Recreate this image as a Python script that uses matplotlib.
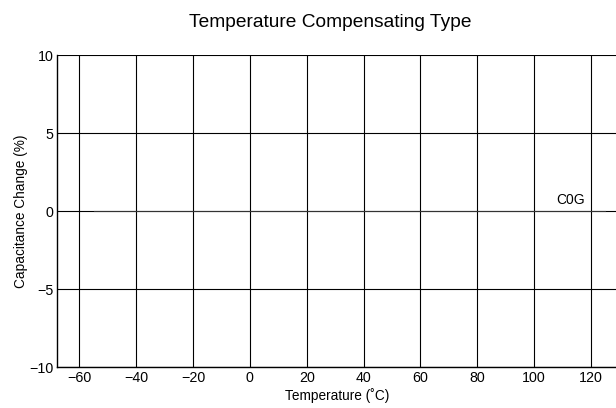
import matplotlib
matplotlib.use("Agg")
import matplotlib.pyplot as plt

plt.rcParams["font.family"] = ["Liberation Sans", "DejaVu Sans"]

# C0G characteristic: flat 0 % change over its rated range
temp = [-55, 125]
cap_change = [0, 0]
series_label = "C0G"

x_ticks = [-60, -40, -20, 0, 20, 40, 60, 80, 100, 120]
y_ticks = [-10, -5, 0, 5, 10]

fig = plt.figure(figsize=(6.16, 4.08), dpi=100)
ax = fig.add_axes([0.0933, 0.0998, 0.9067, 0.7647])

ax.plot(temp, cap_change, color="#333333", linewidth=0.8, zorder=3)
ax.text(113, 0.75, series_label, fontsize=10, ha="center", va="center")

ax.set_xlim(-67.75, 128.9)
ax.set_ylim(-10, 10)
ax.set_xticks(x_ticks)
ax.set_yticks(y_ticks)
ax.tick_params(length=0, labelsize=10.3, pad=3)
ax.grid(True, color="black", linewidth=0.8)

for side in ("top", "right"):
    ax.spines[side].set_visible(False)
for side in ("left", "bottom"):
    ax.spines[side].set_linewidth(1.0)

ax.set_xlabel("Temperature (˚C)", fontsize=9.8, labelpad=2)
ax.set_ylabel("Capacitance Change (%)", fontsize=9.8, labelpad=1)
fig.suptitle("Temperature Compensating Type", fontsize=13.8, x=0.536, y=0.965)

fig.savefig("out.png", dpi=100)
